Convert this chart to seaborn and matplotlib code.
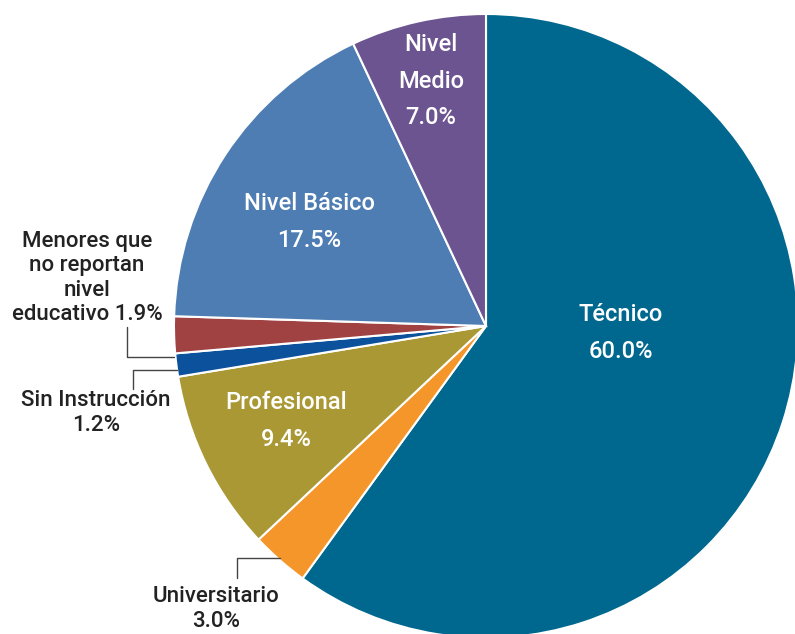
import matplotlib
matplotlib.use("Agg")
import matplotlib.pyplot as plt
import seaborn as sns

# datos
categorias = ["Técnico", "Universitario", "Profesional", "Sin Instrucción",
              "Menores que no reportan nivel educativo", "Nivel Básico", "Nivel Medio"]
porcentajes = [60.0, 3.0, 9.4, 1.2, 1.9, 17.5, 7.0]
colores = ["#00688F", "#F5962A", "#A99834", "#0B519B", "#A04142", "#4E7DB4", "#6C5490"]

sns.set_theme(style="white")
plt.rcParams['font.family'] = ['Roboto', 'DejaVu Sans']

W, H = 795, 634
cx, cy, R = 486, 326, 312

fig = plt.figure(figsize=(W / 100, H / 100), dpi=100)
ax = fig.add_axes([0, 0, 1, 1])

def px(x, y):
    # pixel -> coordenadas del eje (centro del pie en 0,0, radio 1)
    return (x - cx) / R, (cy - y) / R

ax.pie(porcentajes, colors=colores, startangle=90, counterclock=False,
       radius=1, center=(0, 0),
       wedgeprops=dict(edgecolor="white", linewidth=1.5))

ax.set_xlim(-cx / R, (W - cx) / R)
ax.set_ylim(-(H - cy) / R, cy / R)
ax.set_aspect('equal')
ax.axis('off')

# etiquetas dentro (blancas)
dentro = {
    "Técnico": ((621, 333), "Técnico\n60.0%"),
    "Profesional": ((286, 421), "Profesional\n9.4%"),
    "Nivel Básico": ((309, 222), "Nivel Básico\n17.5%"),
    "Nivel Medio": ((431, 81), "Nivel\nMedio\n7.0%"),
}
for k, (pos, txt) in dentro.items():
    x, y = px(*pos)
    ax.text(x, y, txt, color="white", fontsize=17, fontweight="medium",
            ha="center", va="center", linespacing=1.75)

# etiquetas fuera (negras)
fuera = [
    ((87, 278), "Menores que\nno reportan\nnivel\neducativo 1.9%"),
    ((96, 413), "Sin Instrucción\n1.2%"),
    ((216, 609), "Universitario\n3.0%"),
]
for pos, txt in fuera:
    x, y = px(*pos)
    ax.text(x, y, txt, color="#222222", fontsize=16, fontweight="medium",
            ha="center", va="center", linespacing=1.2)

# líneas guía
guias = [
    [(127, 327), (127, 357), (174, 357)],
    [(133, 389), (133, 370), (177, 370)],
    [(237, 578), (237, 558), (280, 558)],
]
for g in guias:
    pts = [px(*p) for p in g]
    ax.plot([p[0] for p in pts], [p[1] for p in pts], color="#444444", lw=1)

fig.savefig("out.png", dpi=100, facecolor="white")
